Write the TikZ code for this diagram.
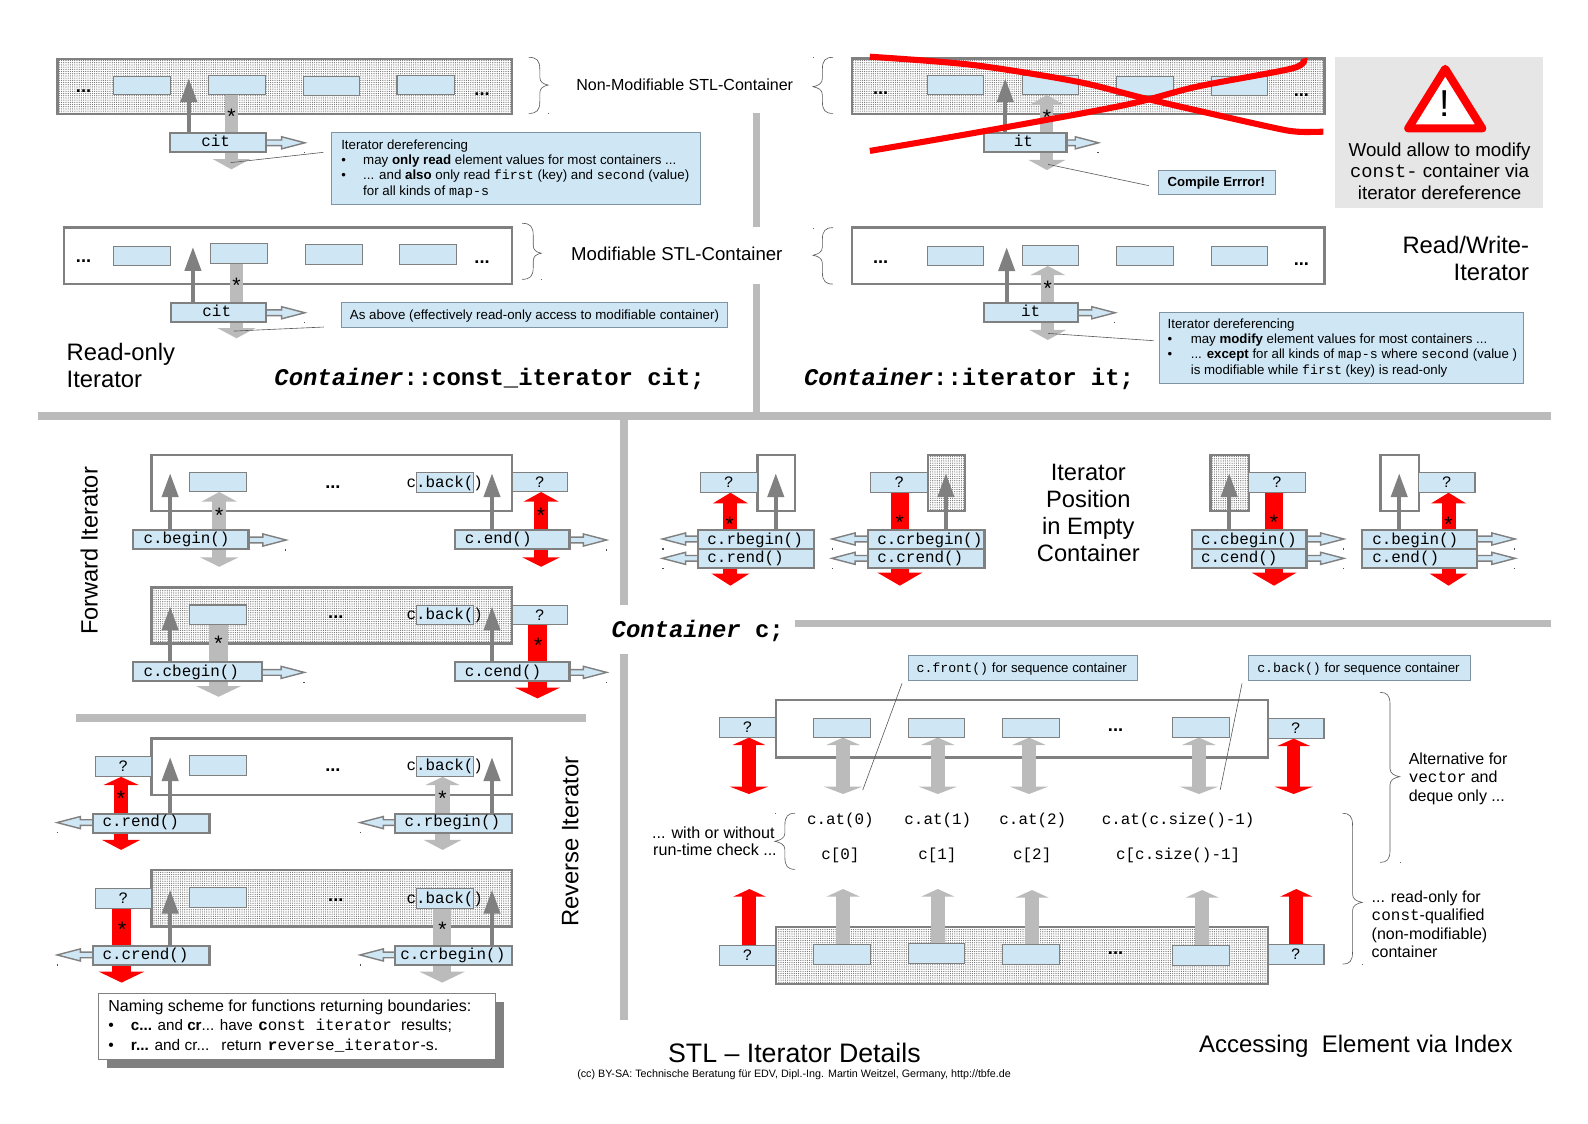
\documentclass[tikz,border=0pt]{standalone}
\usepackage{fontspec}
\setmainfont{Liberation Sans}
\setmonofont{Liberation Mono}
\usetikzlibrary{arrows.meta,patterns.meta}
\def\uu{0.50638}
\definecolor{cellblue}{HTML}{CFE7F5}
\definecolor{edgegray}{HTML}{808080}
\definecolor{fatg}{HTML}{BBBBBB}
\definecolor{notegray}{HTML}{E6E6E6}
\definecolor{calloutedge}{HTML}{7F93A3}
\newcounter{lk}
\newcounter{tn}
\newcommand\fsz[1]{\pgfmathsetmacro\fszv{#1*\uu}\fontsize{\fszv pt}{\fszv pt}\selectfont}
\tikzset{
  cellbox/.style={draw=edgegray,fill=cellblue,line width=1.1*\uu pt,inner sep=0pt,outer sep=0pt,font={\fontsize{7.95}{9}\selectfont\ttfamily}},
  fnbox/.style={cellbox,line width=2.3*\uu pt},
  notebox/.style={draw=calloutedge,fill=cellblue,line width=1*\uu pt,inner sep=0pt,outer sep=0pt},
  plainbox/.style={draw=edgegray,fill=white,line width=2.4*\uu pt,inner sep=0pt,outer sep=0pt},
  texbox/.style={draw=edgegray,line width=2.4*\uu pt,inner sep=0pt,outer sep=0pt,fill=white},
  txt/.style={inner sep=0pt,outer sep=0pt},
  leadline/.style={draw=black!65,line width=0.6*\uu pt},
  ruleline/.style={draw=fatg},
  bracepath/.style={draw=black!65,line width=0.6*\uu pt},
}
% box: style, name, x1,y1,x2,y2, text
\newcommand\bx[7]{\node[#1,minimum width={(#5-#3)*\uu pt},minimum height={(#6-#4)*\uu pt}] (#2) at ({(#3+#5)/2},{(#4+#6)/2}) {#7};}
% textured container
\newcommand\texcont[5]{\bx{texbox}{#1}{#2}{#3}{#4}{#5}{}
  \fill[pattern={Dots[distance=1.1pt,radius=0.3pt]},pattern color=black!58] (#1.south west) rectangle (#1.north east);
  \draw[edgegray,line width=2.4*\uu pt] (#1.south west) rectangle (#1.north east);}
% single-line text: anchor,x,y,size,text
\newcommand\tx[5]{\stepcounter{tn}\node[txt,anchor=#1] (t\thetn) at (#2,{#3+0.1*#4}) {\fsz{#4}\vphantom{(}#5};}
\newcommand\mm[1]{\texttt{#1}}
% star and dots
\newcommand\st[2]{\stepcounter{tn}\node[txt] (t\thetn) at (#1,{#2+11.5}) {\fsz{21}\ttfamily\smash{*}};}
\newcommand\dts[2]{\stepcounter{tn}\node[txt,anchor=base] (t\thetn) at (#1,{#2+2}) {\fsz{18}\bfseries...};}
% fat arrow one head: colour,x,y1,tip,shaft,H,L
\newcommand\fatS[7]{\pgfmathsetmacro\aS{#5*\uu}\pgfmathsetmacro\aH{#6*\uu}\pgfmathsetmacro\aL{#7*\uu}\stepcounter{lk}%
  \coordinate (L\thelk a) at (#2,#3);\coordinate (L\thelk b) at (#2,#4);%
  \draw[draw=#1,line width=\aS pt,-{Triangle[width=\aH pt,length=\aL pt,fill=#1]}] (L\thelk a) -- (L\thelk b);}
% fat arrow two heads: colour,x,ytop,ybot,shaft,H1,L1,H2,L2
\newcommand\fatD[9]{\pgfmathsetmacro\aS{#5*\uu}\pgfmathsetmacro\aH{#6*\uu}\pgfmathsetmacro\aL{#7*\uu}\pgfmathsetmacro\bH{#8*\uu}\pgfmathsetmacro\bL{#9*\uu}\stepcounter{lk}%
  \coordinate (L\thelk a) at (#2,#3);\coordinate (L\thelk b) at (#2,#4);%
  \draw[draw=#1,line width=\aS pt,{Triangle[width=\aH pt,length=\aL pt,fill=#1]}-{Triangle[width=\bH pt,length=\bL pt,fill=#1]}] (L\thelk a) -- (L\thelk b);}
\newcommand\thinA[3]{\fatS{edgegray}{#1}{#2}{#3}{3.6}{16}{23.5}}
% hollow arrow: x0,y,tip,dir(+1/-1)
\newcommand\hol[4]{\draw[draw=edgegray,fill=cellblue,line width=1.4*\uu pt,line join=miter] (#1,#2-2.8) -- ({#3-#4*23},#2-2.8) -- ({#3-#4*23},#2-6) -- (#3,#2) -- ({#3-#4*23},#2+6) -- ({#3-#4*23},#2+2.8) -- (#1,#2+2.8) -- cycle;
  \fill[black!70] ({#3-#4*0.5-0.6},#2+9.2) rectangle ++(1.3,1.3);}
\newcommand\lead[4]{\stepcounter{lk}\coordinate (L\thelk a) at (#1,#2);\coordinate (L\thelk b) at (#3,#4);\draw[leadline] (L\thelk a) -- (L\thelk b);}
% right brace: xstart,xmid,xtip,ytop,ytip,ybot
\newcommand\bracer[6]{\draw[bracepath] (#1,#4) .. controls (#2-3,#4) and (#2,#4+3) .. (#2,#4+12) -- (#2,#5-8) .. controls (#2,#5-3) and (#3-5,#5-1) .. (#3,#5) .. controls (#3-5,#5+1) and (#2,#5+3) .. (#2,#5+8) -- (#2,#6-12) .. controls (#2,#6-3) and (#2-3,#6) .. (#1,#6);
  \fill[black!60] (#3,#6) rectangle ++(0.9,0.9);}
% left brace
\newcommand\bracel[6]{\draw[bracepath] (#1,#4) .. controls (#2+3,#4) and (#2,#4+3) .. (#2,#4+12) -- (#2,#5-8) .. controls (#2,#5-3) and (#3+5,#5-1) .. (#3,#5) .. controls (#3+5,#5+1) and (#2,#5+3) .. (#2,#5+8) -- (#2,#6-12) .. controls (#2,#6-3) and (#2+3,#6) .. (#1,#6);
  \fill[black!60] (#3,#4) rectangle ++(0.9,0.9);}
\newcommand\cback[2]{\tx{west}{401.5}{#2}{15.7}{\ttfamily c.back()}}
\begin{document}
\begin{tikzpicture}[x=\uu pt,y=-\uu pt]
\useasboundingbox (0,0) rectangle (1568,1109);
\fill[white] (0,0) rectangle (1568,1109);

%% Rules
\coordinate (r1a) at (38,411);\coordinate (r1b) at (1531,411);
\draw[ruleline,line width=7.5*\uu pt] (r1a) -- (r1b);
\coordinate (r2a) at (747,112);\coordinate (r2b) at (747,224);
\coordinate (r3a) at (747,280);\coordinate (r3b) at (747,407);
\draw[ruleline,line width=6.5*\uu pt] (r2a) -- (r2b) (r3a) -- (r3b);
\coordinate (r4a) at (616,415);\coordinate (r4b) at (616,597);
\coordinate (r5a) at (616,646);\coordinate (r5b) at (616,1007);
\draw[ruleline,line width=7.5*\uu pt] (r4a) -- (r4b) (r5a) -- (r5b);
\coordinate (r6a) at (785,615.5);\coordinate (r6b) at (1531,615.5);
\draw[ruleline,line width=7*\uu pt] (r6a) -- (r6b);
\coordinate (r7a) at (75,708.7);\coordinate (r7b) at (579,708.7);
\draw[ruleline,line width=7.5*\uu pt] (r7a) -- (r7b);

%% ===== Read-only, non-modifiable
\texcont{ca}{56.7}{58.3}{505.5}{112.6}
\fatS{fatg}{228.5}{93}{167.2}{12.7}{36}{10}
\thinA{186.4}{131}{77.4}
\bx{cellbox}{ca1}{112}{75.7}{168}{93.5}{}
\bx{cellbox}{ca2}{205.9}{74.7}{262}{93.2}{}
\bx{cellbox}{ca3}{299.7}{75.7}{355}{94.1}{}
\bx{cellbox}{ca4}{392}{74.7}{449}{93.2}{}
\dts{82.5}{89}\dts{476}{92}
\st{228.5}{111}
\hol{262.5}{141}{301}{1}
\bx{fnbox}{cit1}{167.8}{131.3}{262.5}{150.1}{}
\tx{center}{213}{139}{15.7}{\ttfamily cit}
\lead{319.2}{150.4}{227.6}{160.6}
\bracer{522}{533}{541.3}{56.6}{84}{112}
\tx{west}{569}{84}{15.85}{Non-Modifiable STL-Container}
\bx{notebox}{note1}{327.4}{131}{691.4}{201.8}{}
\tx{west}{337}{143.2}{13.1}{Iterator dereferencing}
\tx{west}{337}{158}{13}{•}
\tx{west}{358.6}{158}{13.15}{may \textbf{only read} element values for most containers ...}
\tx{west}{337}{172.8}{13}{•}
\tx{west}{358.6}{172.8}{13.15}{... and \textbf{also} only read \mm{first} (key) and \mm{second} (value)}
\tx{west}{358.6}{188.3}{13.15}{for all kinds of \mm{map-s}}

%% ===== Read-only, modifiable
\bx{plainbox}{cb}{63}{224.8}{505.5}{280.5}{}
\fatS{fatg}{233.5}{260}{334}{12.7}{37}{10}
\thinA{190.5}{299.5}{244}
\bx{cellbox}{cb1}{112}{243.3}{168}{262}{}
\bx{cellbox}{cb2}{207.7}{240.6}{264.3}{260}{}
\bx{cellbox}{cb3}{301.5}{241.6}{357.7}{261}{}
\bx{cellbox}{cb4}{394.4}{241.6}{451}{261}{}
\dts{82.5}{256.7}\dts{476}{258.4}
\st{233.5}{278}
\hol{262.5}{308.8}{301}{1}
\bx{fnbox}{cit2}{168.7}{299.2}{262.5}{318}{}
\tx{center}{214}{307}{15.7}{\ttfamily cit}
\lead{319.7}{322.9}{230.8}{326.9}
\bracer{515.5}{526.5}{534.5}{220.5}{250}{275.8}
\tx{west}{564}{250.8}{18.4}{Modifiable STL-Container}
\bx{notebox}{note2}{337.3}{298.9}{718.6}{323.2}{}
\tx{west}{345.5}{311}{13.15}{As above (effectively read-only access to modifiable container)}
\tx{west}{65.8}{348}{23.5}{Read-only}
\tx{west}{65.8}{374}{23.5}{Iterator}
\tx{west}{271}{372.6}{23.6}{\ttfamily\bfseries{\itshape Container}::const\_iterator cit;}

%% ===== Read/Write, const (crossed)
\texcont{cc}{841.4}{57.6}{1308}{112.6}
\fatD{fatg}{1033.7}{93.8}{167.9}{12.8}{34.5}{10}{36}{10}
\thinA{992.6}{131}{77.4}
\bx{cellbox}{cc1}{915.6}{74.7}{971.3}{93.5}{}
\bx{cellbox}{cc2}{1009.6}{74.7}{1064.8}{93.5}{}
\bx{cellbox}{cc3}{1102.6}{75.7}{1158.8}{94.5}{}
\bx{cellbox}{cc4}{1196}{75.7}{1251.4}{94.5}{}
\dts{869.5}{91.5}\dts{1285}{93}
\st{1033.7}{112.6}
\hol{1053}{141}{1084.7}{1}
\bx{fnbox}{it1}{971.3}{131.3}{1053}{150}{}
\tx{center}{1010.5}{139}{15.7}{\ttfamily it}
\lead{1134.3}{183.3}{1035}{162.3}
\bx{notebox}{err}{1143.7}{168.5}{1259.5}{191.9}{}
\tx{center}{1201}{179.5}{13}{\bfseries Compile Errror!}
\bracel{822.5}{812}{802.7}{56.6}{85.6}{112}
\draw[red,line width=6*\uu pt] plot[smooth,tension=0.5] coordinates {(858.9,56) (959.5,64) (1063.4,80.6) (1134,98) (1252.4,125) (1280.7,130) (1306.7,130)};
\draw[red,line width=6*\uu pt] plot[smooth,tension=0.5] coordinates {(858.9,149) (969,130) (1110.6,103.7) (1181.5,85.6) (1276,67.5) (1287.8,57.6)};
\fill[notegray] (1318,56.6) rectangle (1524,205);
\draw[red,fill=white,line width=8*\uu pt,line join=round] (1427,68) -- (1463.5,126.7) -- (1390.5,126.7) -- cycle;
\tx{center}{1426}{102}{37}{!}
\tx{center}{1421.5}{147.5}{18.5}{Would allow to modify}
\tx{center}{1421.5}{169}{18.5}{\mm{const-} container via}
\tx{center}{1421.5}{190}{18.5}{iterator dereference}

%% ===== Read/Write, modifiable
\bx{plainbox}{cd}{841.4}{224.8}{1308}{280.5}{}
\fatD{fatg}{1034.6}{262.7}{335.7}{12.8}{34.5}{9}{36}{10}
\thinA{994}{298.6}{244.2}
\bx{cellbox}{cd1}{915.6}{243.3}{971.3}{262}{}
\bx{cellbox}{cd2}{1009.6}{242.3}{1064.8}{262}{}
\bx{cellbox}{cd3}{1102.6}{243.3}{1158.8}{262}{}
\bx{cellbox}{cd4}{1196}{243.3}{1251.4}{262}{}
\dts{869.5}{258.4}\dts{1285}{260}
\st{1034.6}{281.4}
\hol{1064.4}{308.8}{1101}{1}
\bx{fnbox}{it2}{971.3}{299.2}{1064.4}{318}{}
\tx{center}{1017.6}{307}{15.7}{\ttfamily it}
\lead{1139}{336.4}{1035}{329.2}
\bracel{822.5}{812}{802.7}{224.8}{252}{280.5}
\bx{notebox}{note3}{1144.7}{308.8}{1504}{378.5}{}
\tx{west}{1153}{320}{13.1}{Iterator dereferencing}
\tx{west}{1153}{334.8}{13}{•}
\tx{west}{1175.8}{334.8}{13.1}{may \textbf{modify} element values for most containers ...}
\tx{west}{1153}{349.6}{13}{•}
\tx{west}{1175.8}{349.6}{13.1}{... \textbf{except} for all kinds of \mm{map-s} where \mm{second} (value )}
\tx{west}{1175.8}{365}{13.1}{is modifiable while \mm{first} (key) is read-only}
\tx{east}{1509.8}{242}{23.5}{Read/Write-}
\tx{east}{1509.8}{268.3}{23.5}{Iterator}
\tx{west}{794}{372.6}{23.6}{\ttfamily\bfseries{\itshape Container}::iterator it;}

%% ===== Forward iterator
\node[txt,rotate=90] (fwd) at (88,544) {\fsz{23.3}Forward Iterator};
\bx{plainbox}{ce}{149.7}{449.3}{505.6}{504.3}{}
\fatD{fatg}{216.5}{485.8}{559.6}{13.6}{35}{9.6}{37.7}{9.3}
\fatD{red}{534.3}{485.8}{559.6}{13.3}{34.5}{9.6}{37}{9.3}
\thinA{168}{522.7}{467.4}
\thinA{485.8}{522.7}{467.4}
\bx{cellbox}{ce1}{187.4}{466.7}{243.5}{485.5}{}
\bx{cellbox}{ce2}{411}{466.7}{467.5}{486.2}{}
\bx{cellbox}{ceq}{505.6}{466.7}{560.5}{485.5}{?}
\cback{}{475.6}
\dts{328.7}{480.6}
\st{216.5}{505.2}\st{534.3}{505.2}
\hol{245.3}{533.2}{282.6}{1}
\hol{562.3}{533.2}{599}{1}
\bx{fnbox}{begin}{131}{523}{245.3}{542}{}
\bx{fnbox}{endf}{449.2}{523}{562.3}{542}{}
\tx{west}{141.8}{531}{15.7}{\ttfamily c.begin()}
\tx{west}{458.9}{531}{15.7}{\ttfamily c.end()}

\texcont{cf}{149.7}{580}{505.6}{635.3}
\fatS{fatg}{215.8}{616.5}{688}{18.3}{44}{10.6}
\fatS{red}{530.7}{616.5}{689.6}{18.7}{44}{10.6}
\thinA{168}{653.4}{599}
\thinA{485.8}{653.4}{599}
\bx{cellbox}{cf1}{187.4}{597.4}{243.5}{616.5}{}
\bx{cellbox}{cf2}{411}{598}{467.5}{616.5}{}
\bx{cellbox}{cfq}{505.6}{598}{560.5}{616.5}{?}
\cback{}{606.3}
\dts{331.6}{608.9}
\st{215.8}{632}\st{531.4}{633.6}
\hol{258.9}{663.9}{300.5}{1}
\hol{562.3}{663.9}{599}{1}
\bx{fnbox}{cbegin}{131}{653.7}{258.9}{672.5}{}
\bx{fnbox}{cendf}{449.2}{653.7}{562.3}{672.5}{}
\tx{west}{141.8}{662.2}{15.7}{\ttfamily c.cbegin()}
\tx{west}{458.9}{662.2}{15.7}{\ttfamily c.cend()}

%% ===== Reverse iterator
\node[txt,rotate=90] (rev) at (563,831) {\fsz{23.5}Reverse Iterator};
\bx{plainbox}{cg}{149.7}{729}{505.6}{785}{}
\fatD{red}{119.6}{767.1}{839.2}{13.6}{34.5}{8}{37.7}{10}
\fatD{fatg}{437}{767.1}{839.2}{14.4}{33.5}{8}{37.3}{10}
\thinA{168}{803}{747.7}
\thinA{485.8}{803}{747.7}
\bx{cellbox}{cg1}{187.4}{746}{243.5}{765.5}{}
\bx{cellbox}{cg2}{411}{747}{467.5}{766.5}{}
\bx{cellbox}{cgq}{94}{747}{149.7}{766.5}{?}
\cback{}{755.3}
\dts{328.7}{759.6}
\st{119.6}{785}\st{437}{785}
\hol{91.6}{812.2}{56.4}{-1}
\hol{390}{812.2}{355.5}{-1}
\bx{fnbox}{rend}{91.6}{803.7}{206.8}{822.8}{}
\bx{fnbox}{rbegin}{390}{803.7}{505.6}{822.8}{}
\tx{west}{101.3}{810.6}{15.7}{\ttfamily c.rend()}
\tx{west}{399.6}{810.6}{15.7}{\ttfamily c.rbegin()}

\texcont{ch}{149.7}{859}{505.6}{915}
\fatS{red}{120}{895.8}{970.2}{18.7}{44.5}{10.8}
\fatS{fatg}{436.6}{896.8}{970.2}{18}{44.5}{10.8}
\thinA{168}{933.7}{878.7}
\thinA{485.8}{933.7}{878.7}
\bx{cellbox}{ch1}{187.4}{876.4}{243.5}{895.8}{}
\bx{cellbox}{ch2}{411}{877.4}{467.5}{896.8}{}
\bx{cellbox}{chq}{94}{877.4}{149.7}{896.8}{?}
\cback{}{886}
\dts{331.6}{888.6}
\st{120.6}{914.3}\st{437}{914.3}
\hol{91.6}{942.9}{56.4}{-1}
\hol{390}{942.9}{355.5}{-1}
\bx{fnbox}{crend}{91.6}{934}{206.8}{953}{}
\bx{fnbox}{crbegin}{390}{934}{505.6}{953}{}
\tx{west}{101.3}{941.9}{15.7}{\ttfamily c.crend()}
\tx{west}{395.3}{941.9}{15.7}{\ttfamily c.crbegin()}

\fill[edgegray] (105.6,989) rectangle (497.7,1054.2);
\bx{txt,draw=edgegray,fill=white,line width=1*\uu pt}{naming}{97.3}{981}{489.4}{1046}{}
\tx{west}{107}{993.3}{15.8}{Naming scheme for functions returning boundaries:}
\tx{west}{107}{1012}{15.5}{•}
\tx{west}{129.3}{1012}{15}{\textbf{c...} and \textbf{cr}... have}
\tx{west}{255}{1012}{15.7}{\ttfamily\textbf{c}onst iterator}
\tx{west}{396}{1012}{15.6}{results;}
\tx{west}{107}{1031.8}{15.5}{•}
\tx{west}{129.3}{1031.8}{15.2}{\textbf{r...} and cr...}
\tx{west}{218.7}{1031.8}{15.2}{return}
\tx{west}{264.6}{1031.8}{15.7}{\mm{\textbf{r}everse\_iterator}-s.}

%% ===== Empty containers
\tx{center}{1074.6}{466.4}{23.4}{Iterator}
\tx{center}{1074.6}{493}{23.4}{Position}
\tx{center}{1074.6}{519.7}{23.4}{in Empty}
\tx{center}{1074.6}{546}{23.4}{Container}

\bx{plainbox}{e1c}{747.8}{449.3}{784.9}{504.3}{}
\fatD{red}{721.2}{486.5}{578.3}{13.8}{34}{10.5}{37}{12}
\thinA{766}{522.7}{467.4}
\bx{cellbox}{e1q}{691.8}{466.7}{747.8}{486.2}{?}
\st{720.6}{514}
\hol{689}{532.2}{654}{-1}\hol{689}{551.3}{654}{-1}
\bx{fnbox}{e1a}{689}{523}{803.7}{542}{}
\bx{fnbox}{e1b}{689}{542}{803.7}{560.9}{}
\tx{west}{698.5}{531.6}{15.7}{\ttfamily c.rbegin()}
\tx{west}{698.5}{550}{15.7}{\ttfamily c.rend()}

\texcont{e2c}{916.2}{449.3}{952.7}{504.3}
\fatS{red}{888.5}{486.2}{578.3}{17.7}{44}{13}
\thinA{934}{522.7}{467.4}
\bx{cellbox}{e2q}{859.7}{466.7}{916.2}{486.2}{?}
\st{888.5}{512}
\hol{857}{532.2}{821.4}{-1}\hol{857}{551.3}{821.4}{-1}
\bx{fnbox}{e2a}{857}{523}{972}{542}{}
\bx{fnbox}{e2b}{857}{542}{972}{560.9}{}
\tx{west}{866.3}{531.6}{15.7}{\ttfamily c.crbegin()}
\tx{west}{866.3}{550}{15.7}{\ttfamily c.crend()}

\texcont{e3c}{1195.4}{449.3}{1233}{504.3}
\fatS{red}{1258}{486.2}{578.3}{18}{44}{13}
\thinA{1213.7}{522.7}{467.4}
\bx{cellbox}{e3q}{1233}{466.7}{1289}{486.2}{?}
\st{1258}{512}
\hol{1290}{532.2}{1327}{1}\hol{1290}{551.3}{1327}{1}
\bx{fnbox}{e3a}{1177}{523}{1290}{542}{}
\bx{fnbox}{e3b}{1177}{542}{1290}{560.9}{}
\tx{west}{1186}{531.6}{15.7}{\ttfamily c.cbegin()}
\tx{west}{1186}{550}{15.7}{\ttfamily c.cend()}

\bx{plainbox}{e4c}{1363.3}{449.3}{1401}{504.3}{}
\fatD{red}{1430.3}{486.5}{578.3}{13.8}{34}{10.5}{37}{12}
\thinA{1381.6}{522.7}{467.4}
\bx{cellbox}{e4q}{1401}{466.7}{1456.4}{486.2}{?}
\st{1430.3}{514}
\hol{1458.6}{532.2}{1496}{1}\hol{1458.6}{551.3}{1496}{1}
\bx{fnbox}{e4a}{1345}{523}{1458.6}{542}{}
\bx{fnbox}{e4b}{1345}{542}{1458.6}{560.9}{}
\tx{west}{1355}{531.6}{15.7}{\ttfamily c.begin()}
\tx{west}{1355}{550}{15.7}{\ttfamily c.end()}

\tx{west}{604}{621}{23.6}{\ttfamily\bfseries{\itshape Container} c;}

%% ===== Index access
\bx{plainbox}{ci}{766}{691.2}{1252}{747.8}{}
\fatD{red}{739.5}{728.3}{784}{13.3}{32}{7.3}{37.7}{7.3}
\fatD{red}{1277.4}{729.3}{784}{13.3}{32}{7.3}{37.7}{7.3}
\fatD{fatg}{832.5}{728.3}{784}{14.4}{33}{7.3}{37.7}{7.3}
\fatD{fatg}{926}{728.3}{784}{14.4}{33}{7.3}{37.7}{7.3}
\fatD{fatg}{1016}{728.3}{784}{14.4}{33}{7.3}{37.7}{7.3}
\fatD{fatg}{1183.8}{728.3}{784}{14.4}{33}{7.3}{37.7}{7.3}
\bx{cellbox}{ciL}{710.6}{708.6}{766}{728}{?}
\bx{cellbox}{ciR}{1252}{709.6}{1307.3}{729}{?}
\bx{cellbox}{ci1}{803.2}{709.6}{859.7}{728}{}
\bx{cellbox}{ci2}{896.8}{709.6}{952.2}{728}{}
\bx{cellbox}{ci3}{989.9}{709.6}{1045.8}{728}{}
\bx{cellbox}{ci4}{1157.7}{708.6}{1213.7}{728}{}
\dts{1101.5}{720}
\lead{890.7}{674.7}{851.9}{780}
\lead{1226.4}{674.7}{1204.8}{780}
\bx{notebox}{nfront}{896.8}{647}{1122.8}{672}{}
\tx{west}{905}{659.5}{13.1}{\mm{c.front()} for sequence container}
\bx{notebox}{nback}{1232.5}{647}{1452}{672}{}
\tx{west}{1241.4}{659.5}{13.1}{\mm{c.back()} for sequence container}

\tx{center}{829.8}{808}{15.7}{\ttfamily c.at(0)}
\tx{center}{926}{808}{15.7}{\ttfamily c.at(1)}
\tx{center}{1019.8}{808}{15.7}{\ttfamily c.at(2)}
\tx{center}{1163.3}{808}{15.7}{\ttfamily c.at(c.size()-1)}
\tx{center}{829.8}{843.2}{15.7}{\ttfamily c[0]}
\tx{center}{925.6}{843.2}{15.7}{\ttfamily c[1]}
\tx{center}{1019.2}{843.2}{15.7}{\ttfamily c[2]}
\tx{center}{1163.3}{843.2}{15.7}{\ttfamily c[c.size()-1]}

\bracel{785}{775}{765}{803}{830.7}{858.4}
\tx{west}{644}{822}{15.9}{... with or without}
\tx{west}{645}{839.3}{15.9}{run-time check ...}
\bracer{1362.7}{1372.5}{1382}{683.6}{766.9}{851.5}
\tx{west}{1391}{748.8}{15.8}{Alternative for}
\tx{west}{1391}{766.9}{15.8}{\mm{vector} and}
\tx{west}{1391}{785.6}{15.8}{deque only ...}
\bracer{1325.6}{1335.5}{1345}{803}{891}{952}
\tx{west}{1354.4}{885.7}{15.8}{... read-only for}
\tx{west}{1354.4}{903.5}{15.8}{\mm{const}-qualified}
\tx{west}{1354.4}{921.9}{15.8}{(non-modifiable)}
\tx{west}{1354.4}{940}{15.8}{container}

\texcont{cj}{766}{915.3}{1252}{971.6}
\fatS{red}{740}{933.4}{877.8}{13.8}{32}{7.6}
\fatS{red}{1280}{932.4}{877.8}{13.8}{32}{7.6}
\fatS{fatg}{832.5}{932.4}{877.8}{14.4}{33}{7.6}
\fatS{fatg}{926}{931.4}{877.8}{14.4}{33}{7.6}
\fatS{fatg}{1019}{932.4}{878.8}{14.4}{33}{7.6}
\fatS{fatg}{1187}{933.4}{878.8}{14.4}{33}{7.6}
\bx{cellbox}{cjL}{710.6}{933.4}{766}{953.2}{?}
\bx{cellbox}{cjR}{1252}{932.4}{1307.3}{952.2}{?}
\bx{cellbox}{cj1}{803.2}{932.4}{859.7}{952.2}{}
\bx{cellbox}{cj2}{896.8}{931.4}{952.2}{951.2}{}
\bx{cellbox}{cj3}{989.9}{932.4}{1045.8}{952.2}{}
\bx{cellbox}{cj4}{1157.7}{933.4}{1213.7}{953.2}{}
\dts{1101.5}{940.3}

%% ===== Titles
\tx{west}{659.7}{1039.4}{26.4}{STL – Iterator Details}
\tx{west}{1184}{1031.2}{23.7}{Accessing\ \ Element via Index}
\tx{west}{570}{1060}{10.6}{(cc) BY-SA: Technische Beratung für EDV, Dipl.-Ing. Martin Weitzel, Germany, http://tbfe.de}
\end{tikzpicture}
\end{document}
